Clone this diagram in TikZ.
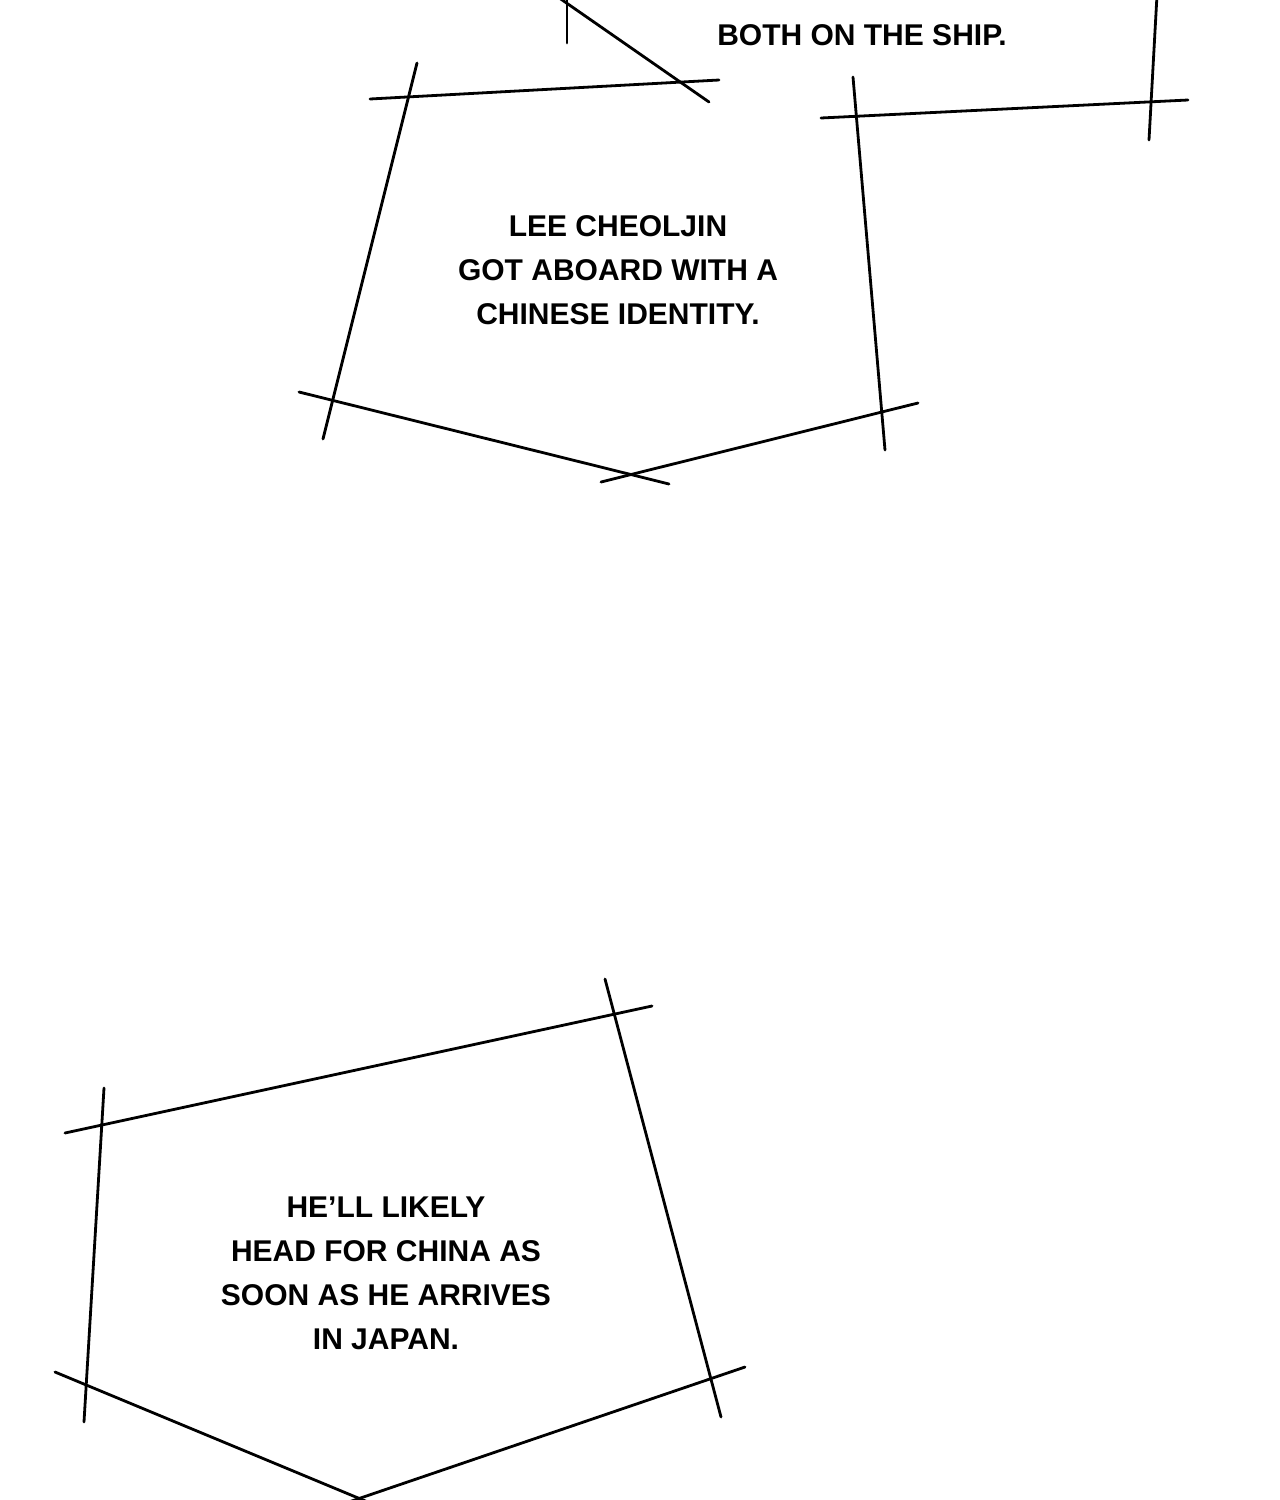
\documentclass[tikz,border=0pt]{standalone}
\usepackage{fontspec}
\setmainfont{Liberation Sans}
\begin{document}
\begin{tikzpicture}[x=0.5pt,y=-0.5pt,
  ln/.style={line width=1.4pt,line cap=round},
  txt/.style={font=\fontsize{15}{22}\selectfont\bfseries,align=center,inner sep=0pt}]
\useasboundingbox[fill=white] (0,0) rectangle (1280,1500);
\clip (0,0) rectangle (1280,1500);
% top fragment
\draw[ln] (567,0) -- (567,43);
\draw[ln] (555,-5) -- (709,102);
\draw[ln] (1157,-5) -- (1149,140);
\draw[ln] (821,118) -- (1188,100);
\node[txt] (t0) at (862,35) {BOTH ON THE SHIP.};
% box 1
\draw[ln] (370,99) -- (719,80);
\draw[ln] (417,63) -- (323,439);
\draw[ln] (853,77) -- (885,450);
\draw[ln] (299,392) -- (669,484);
\draw[ln] (601,482) -- (918,403);
\node[txt] (t1) at (618,270) {LEE CHEOLJIN\\GOT ABOARD WITH A\\CHINESE IDENTITY.};
% box 2
\draw[ln] (65,1133) -- (652,1006);
\draw[ln] (605,979) -- (721,1417);
\draw[ln] (104,1088) -- (84,1422);
\draw[ln] (55,1372) -- (375,1505);
\draw[ln] (340,1505) -- (745,1367);
\node[txt] (t2) at (386,1273) {HE'LL LIKELY\\HEAD FOR CHINA AS\\SOON AS HE ARRIVES\\IN JAPAN.};
\end{tikzpicture}
\end{document}
